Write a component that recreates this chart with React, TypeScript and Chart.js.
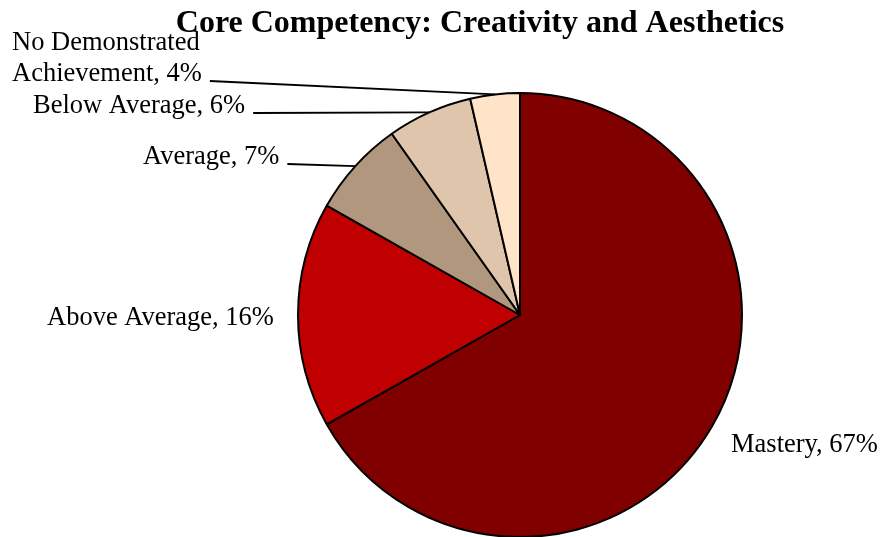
import React, { useEffect, useRef } from "react";
import { Chart, registerables } from "chart.js";

Chart.register(...registerables);

const TITLE = "Core Competency: Creativity and Aesthetics";
const categories = ["Mastery", "Above Average", "Average", "Below Average", "No Demonstrated Achievement"];
const values = [66.8, 16.4, 7.0, 6.2, 3.6];
const colors = ["#800000", "#C00000", "#B0977D", "#DFC5AB", "#FFE4C9"];

// label layout: text left x, baseline y of last line, whether leader is drawn
const labelLayout = [
  { x: 731, y: 452, leader: false, lines: 1 },
  { x: 47, y: 325, leader: false, lines: 1 },
  { x: 143, y: 164, leader: true, lines: 1 },
  { x: 33, y: 113, leader: true, lines: 1 },
  { x: 12, y: 81, leader: true, lines: 2 },
];

const FONT = "26.5px 'Liberation Serif', 'Times New Roman', serif";
const TITLE_FONT = "bold 32px 'Liberation Serif', 'Times New Roman', serif";

const labelPlugin = {
  id: "pieLabels",
  afterDraw(chart: any) {
    const ctx = chart.ctx as CanvasRenderingContext2D;
    const meta = chart.getDatasetMeta(0);
    ctx.save();
    // title
    ctx.font = TITLE_FONT;
    ctx.fillStyle = "#000";
    ctx.textAlign = "center";
    ctx.textBaseline = "alphabetic";
    ctx.fillText(TITLE, 480, 32);

    ctx.font = FONT;
    ctx.textAlign = "left";
    meta.data.forEach((arc: any, i: number) => {
      const lay = labelLayout[i];
      const pct = Math.round(values[i]);
      let lines: string[];
      if (lay.lines === 2) {
        const words = categories[i].split(" ");
        lines = [words.slice(0, words.length - 1).join(" "), `${words[words.length - 1]}, ${pct}%`];
      } else {
        lines = [`${categories[i]}, ${pct}%`];
      }
      const lh = 31;
      lines.forEach((ln, k) => {
        ctx.fillText(ln, lay.x, lay.y - (lines.length - 1 - k) * lh);
      });
      if (lay.leader) {
        const p = arc.getProps(["x", "y", "startAngle", "endAngle", "outerRadius"], true);
        const mid = (p.startAngle + p.endAngle) / 2;
        const ex = p.x + Math.cos(mid) * p.outerRadius;
        const ey = p.y + Math.sin(mid) * p.outerRadius;
        const w = ctx.measureText(lines[lines.length - 1]).width;
        ctx.beginPath();
        ctx.strokeStyle = "#000";
        ctx.lineWidth = 1.8;
        ctx.moveTo(lay.x + w + 8, lay.y);
        ctx.lineTo(ex, ey);
        ctx.stroke();
      }
    });
    ctx.restore();
  },
};

export default function App() {
  const ref = useRef<HTMLCanvasElement | null>(null);
  useEffect(() => {
    if (!ref.current) return;
    const chart = new Chart(ref.current, {
      type: "pie",
      data: {
        labels: categories,
        datasets: [
          {
            data: values,
            backgroundColor: colors,
            borderColor: "#000",
            borderWidth: 2,
          },
        ],
      },
      options: {
        animation: false,
        responsive: false,
        radius: 222,
        layout: { padding: { left: 158, right: 0, top: 93, bottom: 0 } },
        plugins: {
          legend: { display: false },
          title: { display: false },
          tooltip: { enabled: false },
        },
      } as any,
      plugins: [labelPlugin],
    });
    return () => chart.destroy();
  }, []);
  return (
    <div style={{ position: "fixed", left: 0, top: 0, width: 882, height: 537, background: "#fff" }}>
      <canvas ref={ref} width={882} height={537} style={{ width: 882, height: 537, display: "block" }} />
    </div>
  );
}
